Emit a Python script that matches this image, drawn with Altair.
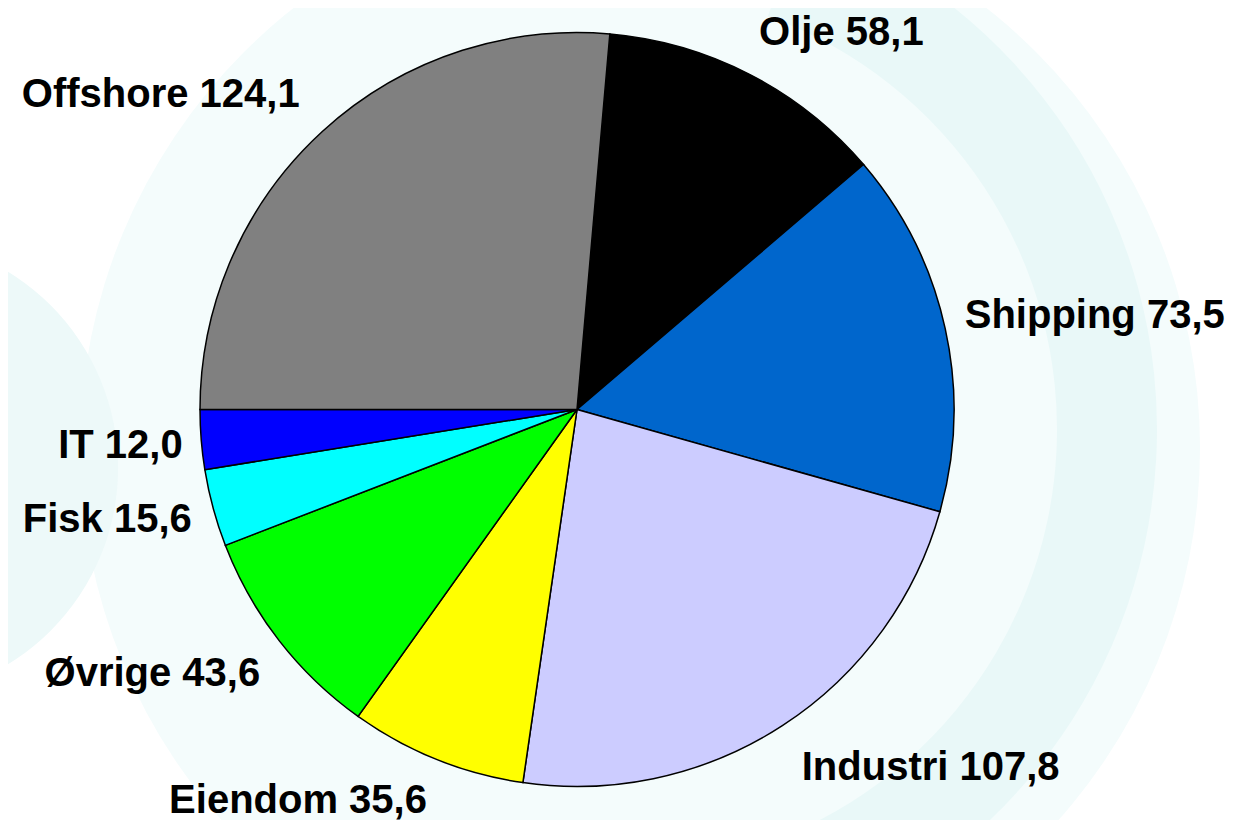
import math
import altair as alt
import pandas as pd

# ---- data ----
categories = ["Olje", "Shipping", "Industri", "Eiendom", "Øvrige", "Fisk", "IT", "Offshore"]
values = [58.1, 73.5, 107.8, 35.6, 43.6, 15.6, 12.0, 124.1]
colors = ["#000000", "#0066CC", "#CCCCFF", "#FFFF00", "#00FF00", "#00FFFF", "#0000FF", "#808080"]

# ---- label layout nudges (pixels, relative to the slice mid-angle point) ----
label_nudge = {
    "Olje": (63, 27),
    "Shipping": (88, 13),
    "Industri": (114, 2),
    "Eiendom": (-115, -5),
    "Øvrige": (-77, 7),
    "Fisk": (-45, 8),
    "IT": (-18, 13),
    "Offshore": (-119, 22),
}

df = pd.DataFrame({"cat": categories, "value": values, "idx": list(range(len(categories)))})
df["label"] = [f"{c} {v:.1f}".replace(".", ",") for c, v in zip(categories, values)]
df["ndx"] = [label_nudge[c][0] for c in categories]
df["ndy"] = [label_nudge[c][1] for c in categories]

CX, CY = 569, 401.5
R = 377
start = math.radians(5.0)

theta = alt.Theta("value:Q", stack=True, scale=alt.Scale(range=[start, start + 2 * math.pi]))
order = alt.Order("idx:Q")

base = alt.Chart(df)

pie = base.mark_arc(stroke="black", strokeWidth=1.5, radius=R).encode(
    theta=theta,
    color=alt.Color("cat:N", scale=alt.Scale(domain=categories, range=colors), legend=None),
    order=order,
    x=alt.value(CX),
    y=alt.value(CY),
)

labels = base.mark_text(
    radius=440,
    font="Liberation Sans",
    fontWeight="bold",
    fontSize=40,
    align="center",
    baseline="alphabetic",
    color="black",
    dx=alt.expr("datum.ndx"),
    dy=alt.expr("datum.ndy"),
).encode(
    theta=theta,
    text="label:N",
    order=order,
    x=alt.value(CX),
    y=alt.value(CY),
)

# ---- pale decorative background swirls ----
decor_df = pd.DataFrame({"d": [0]})
decor = alt.Chart(decor_df)
bg_disk = decor.mark_arc(radius=560, theta=0, theta2=2 * math.pi, color="#F4FCFC").encode(
    x=alt.value(632), y=alt.value(440)
)
bg_band = decor.mark_arc(radius=540, radius2=440, theta=0.35, theta2=2.9, color="#E9F8F8").encode(
    x=alt.value(CX + 40), y=alt.value(CY + 20)
)
bg_left = decor.mark_arc(radius=230, theta=0, theta2=2 * math.pi, color="#EDF9F9").encode(
    x=alt.value(-120), y=alt.value(460)
)

chart = alt.layer(bg_disk, bg_band, bg_left, pie, labels).properties(
    width=1220,
    height=812,
    autosize=alt.AutoSizeParams(type="none"),
    padding=0,
    background="white",
).configure_view(stroke=None)

chart.save("out.html", embed_options={"renderer": "svg", "actions": False})
